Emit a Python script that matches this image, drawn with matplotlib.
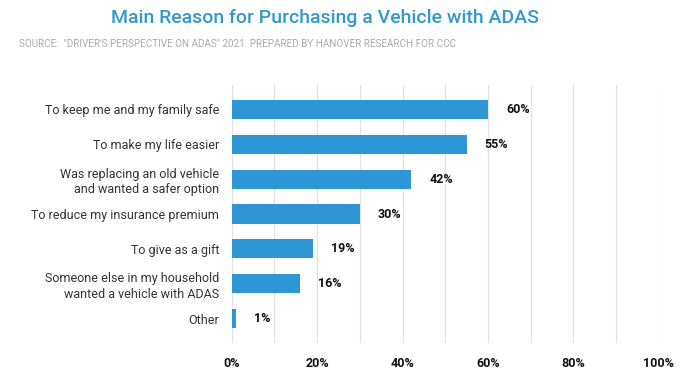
import numpy as np
import matplotlib.pyplot as plt

# dados do grafico
motivos = [
    "To keep me and my family safe",
    "To make my life easier",
    "Was replacing an old vehicle\nand wanted a safer option",
    "To reduce my insurance premium",
    "To give as a gift",
    "Someone else in my household\nwanted a vehicle with ADAS",
    "Other",
]
percentuais = [60, 55, 42, 30, 19, 16, 1]
ticks_x = [0, 20, 40, 60, 80, 100]

azul = "#2e96d4"

fig = plt.figure(figsize=(7, 3.92), dpi=100)
ax = fig.add_axes([0.331, 0.125, 0.61, 0.658])

y = np.arange(len(motivos))
ax.barh(y, percentuais, height=0.55, color=azul, zorder=3)

for i, v in enumerate(percentuais):
    ax.annotate(f"{v}%", xy=(v, i), xytext=(13, 0), textcoords="offset points",
                va="center", ha="left", fontsize=9, fontweight="bold",
                color="#111111", family="Roboto")

ax.set_xlim(0, 100)
ax.set_ylim(len(motivos) - 0.3, -0.7)
ax.set_xticks(ticks_x)
ax.set_xticklabels([f"{t}%" for t in ticks_x], fontsize=9, fontweight="bold",
                   color="#111111", family="Roboto")
ax.set_xticks(np.arange(0, 101, 10), minor=True)
ax.set_yticks(y)
ax.set_yticklabels(motivos, fontsize=9, color="#333333", family="Roboto",
                   linespacing=1.25)
ax.tick_params(axis="both", length=0, pad=10, which="both")
ax.tick_params(axis="y", pad=9)
ax.grid(axis="x", which="both", color="#e2e2e2", linewidth=0.9, zorder=0)
for s in ax.spines.values():
    s.set_visible(False)

fig.text(0.464, 0.955, "Main Reason for Purchasing a Vehicle with ADAS",
         ha="center", va="center", fontsize=14, fontweight="medium",
         color="#3399cc", family="Roboto")
fig.text(0.027, 0.888,
         'SOURCE:  "DRIVER\'S PERSPECTIVE ON ADAS" 2021. PREPARED BY HANOVER RESEARCH FOR CCC',
         ha="left", va="center", fontsize=7.1, color="#aaaaaa", family="Roboto")

fig.savefig("out.png", dpi=100)
